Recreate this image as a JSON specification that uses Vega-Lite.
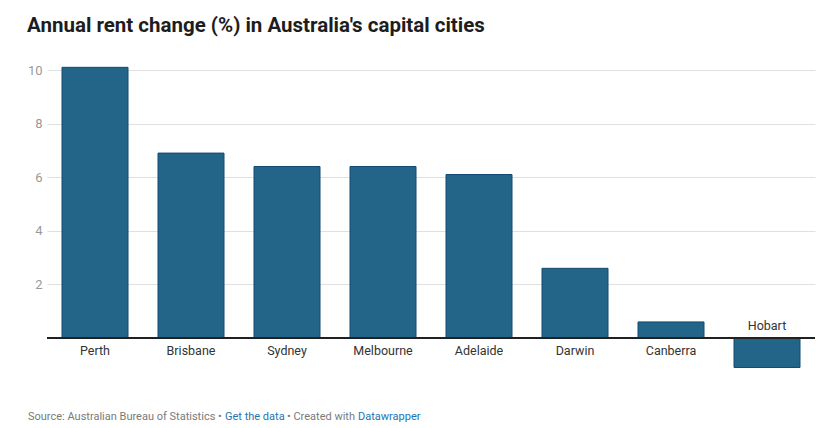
{
  "$schema": "https://vega.github.io/schema/vega-lite/v6.json",
  "width": 768,
  "height": 305,
  "autosize": "none",
  "padding": {"left": 47, "top": 65, "right": 18, "bottom": 58},
  "config": {"view": {"stroke": null}, "font": "Roboto"},
  "title": {
    "text": "Annual rent change (%) in Australia's capital cities",
    "anchor": "start",
    "frame": "group",
    "fontSize": 20.5,
    "fontWeight": "bold",
    "color": "#1d1d1d",
    "dx": -20,
    "offset": 28
  },
  "data": {
    "values": [
      {"city": "Perth", "value": 10.1},
      {"city": "Brisbane", "value": 6.9},
      {"city": "Sydney", "value": 6.4},
      {"city": "Melbourne", "value": 6.4},
      {"city": "Adelaide", "value": 6.1},
      {"city": "Darwin", "value": 2.6},
      {"city": "Canberra", "value": 0.6},
      {"city": "Hobart", "value": -1.1}
    ]
  },
  "encoding": {
    "x": {
      "field": "city",
      "type": "nominal",
      "sort": null,
      "scale": {"paddingInner": 0.3125, "paddingOuter": 0.15625},
      "axis": null
    }
  },
  "layer": [
    {
      "mark": {"type": "bar", "fill": "#236489", "stroke": "#124a70", "strokeWidth": 1},
      "encoding": {
        "y": {
          "field": "value",
          "type": "quantitative",
          "scale": {"domain": [-1.194, 10.187], "nice": false, "zero": false},
          "axis": {
            "values": [2, 4, 6, 8, 10],
            "title": null,
            "grid": true,
            "gridColor": "#e0e0e0",
            "domain": false,
            "ticks": false,
            "labelColor": "#999999",
            "labelFontSize": 13,
            "labelPadding": 5
          }
        }
      }
    },
    {
      "mark": {"type": "rule", "color": "#222222", "strokeWidth": 1.5},
      "encoding": {"y": {"datum": 0}, "x": null}
    },
    {
      "transform": [{"filter": "datum.value >= 0"}],
      "mark": {"type": "text", "baseline": "middle", "dy": 13, "fontSize": 12.5, "color": "#333333"},
      "encoding": {"y": {"datum": 0}, "text": {"field": "city"}}
    },
    {
      "transform": [{"filter": "datum.value < 0"}],
      "mark": {"type": "text", "baseline": "middle", "dy": -12, "fontSize": 12.5, "color": "#333333"},
      "encoding": {"y": {"datum": 0}, "text": {"field": "city"}}
    },
    {
      "data": {"values": [{"part": "Source: Australian Bureau of Statistics •"}]},
      "mark": {"type": "text", "align": "left", "baseline": "middle", "dx": -34, "fontSize": 11, "color": "#7a7a7a"},
      "encoding": {"x": {"datum": "Perth", "bandPosition": 0}, "y": {"datum": -2.93}, "text": {"field": "part"}}
    },
    {
      "data": {"values": [{"part": "Get the data"}]},
      "mark": {"type": "text", "align": "left", "baseline": "middle", "dx": 163, "fontSize": 11, "color": "#1d74b3"},
      "encoding": {"x": {"datum": "Perth", "bandPosition": 0}, "y": {"datum": -2.93}, "text": {"field": "part"}}
    },
    {
      "data": {"values": [{"part": "• Created with"}]},
      "mark": {"type": "text", "align": "left", "baseline": "middle", "dx": 225, "fontSize": 11, "color": "#7a7a7a"},
      "encoding": {"x": {"datum": "Perth", "bandPosition": 0}, "y": {"datum": -2.93}, "text": {"field": "part"}}
    },
    {
      "data": {"values": [{"part": "Datawrapper"}]},
      "mark": {"type": "text", "align": "left", "baseline": "middle", "dx": 296, "fontSize": 11, "color": "#1d74b3"},
      "encoding": {"x": {"datum": "Perth", "bandPosition": 0}, "y": {"datum": -2.93}, "text": {"field": "part"}}
    }
  ]
}
